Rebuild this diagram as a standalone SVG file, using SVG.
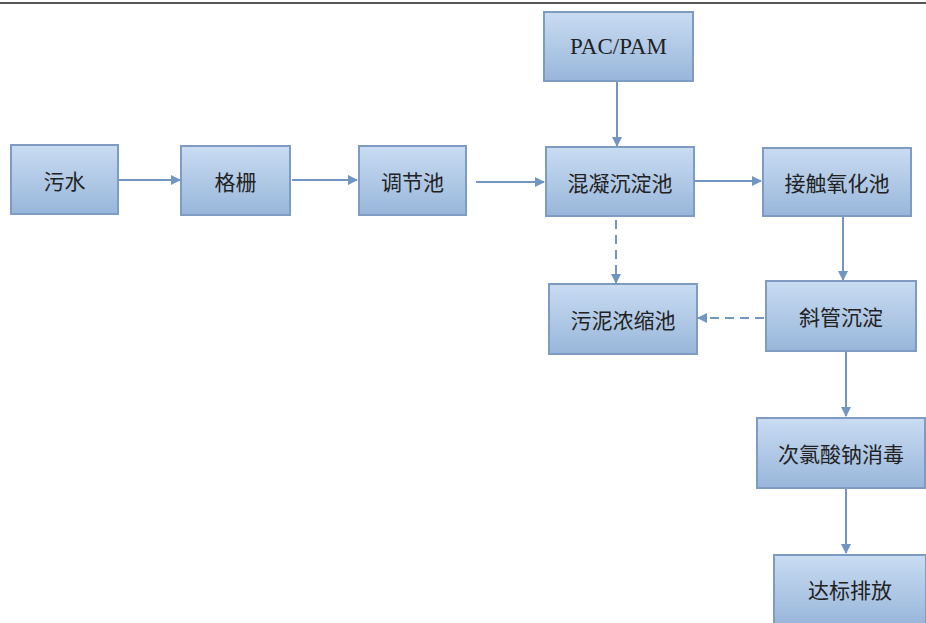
<svg xmlns="http://www.w3.org/2000/svg" width="926" height="623" viewBox="0 0 926 623">
<defs>
<linearGradient id="g" x1="0" y1="0" x2="0" y2="1">
<stop offset="0" stop-color="#c9dcf2"/>
<stop offset="1" stop-color="#98b6da"/>
</linearGradient>
<marker id="ah" markerWidth="10" markerHeight="10" refX="9" refY="5" orient="auto" markerUnits="userSpaceOnUse">
<path d="M0,0 L10,5 L0,10 Z" fill="#7296c2"/>
</marker>
<style>
.box{fill:url(#g);stroke:#7e9cc2;stroke-width:2}
.t{font-family:"Noto Sans CJK SC","Noto Sans",sans-serif;font-size:21px;fill:#222;text-anchor:middle;dominant-baseline:central}
.tl{font-family:"Liberation Serif",serif;font-size:23px;fill:#222;text-anchor:middle;dominant-baseline:central}
.c{stroke:#7296c2;stroke-width:2;fill:none;marker-end:url(#ah)}
.d{stroke-dasharray:9,6}
</style>
</defs>
<rect width="926" height="623" fill="#fff"/>
<line x1="0" y1="3" x2="926" y2="3" stroke="#555" stroke-width="2"/>
<g id="n1"><rect class="box" x="11" y="145" width="107" height="69"/><text class="t" x="64.5" y="179.5">污水</text></g>
<g id="n2"><rect class="box" x="181" y="146" width="109" height="69"/><text class="t" x="235.5" y="180.5">格栅</text></g>
<g id="n3"><rect class="box" x="359" y="146" width="107" height="69"/><text class="t" x="412.5" y="180.5">调节池</text></g>
<g id="n4"><rect class="box" x="544" y="12" width="149" height="69"/><text class="tl" x="618.5" y="46.5">PAC/PAM</text></g>
<g id="n5"><rect class="box" x="546" y="147" width="148" height="69"/><text class="t" x="620" y="181.5">混凝沉淀池</text></g>
<g id="n6"><rect class="box" x="763" y="148" width="148" height="68"/><text class="t" x="837" y="182">接触氧化池</text></g>
<g id="n7"><rect class="box" x="549" y="284" width="148" height="70"/><text class="t" x="623" y="319">污泥浓缩池</text></g>
<g id="n8"><rect class="box" x="766" y="281" width="150" height="70"/><text class="t" x="841" y="316">斜管沉淀</text></g>
<g id="n9"><rect class="box" x="757" y="418" width="168" height="70"/><text class="t" x="841" y="453">次氯酸钠消毒</text></g>
<g id="n10"><rect class="box" x="774" y="555" width="152" height="70"/><text class="t" x="850" y="589">达标排放</text></g>
<g id="connectors">
<line class="c" x1="119" y1="180" x2="180" y2="180"/>
<line class="c" x1="292" y1="180" x2="357" y2="180"/>
<line class="c" x1="476" y1="182" x2="544" y2="182"/>
<line class="c" x1="617" y1="82" x2="617" y2="146"/>
<line class="c" x1="695" y1="181" x2="761" y2="181"/>
<line class="c d" x1="616" y1="220" x2="616" y2="283"/>
<line class="c" x1="843" y1="217" x2="843" y2="280"/>
<line class="c d" x1="764" y1="318" x2="698" y2="318"/>
<line class="c" x1="846" y1="352" x2="846" y2="416"/>
<line class="c" x1="846" y1="489" x2="846" y2="553"/>
</g>
</svg>
